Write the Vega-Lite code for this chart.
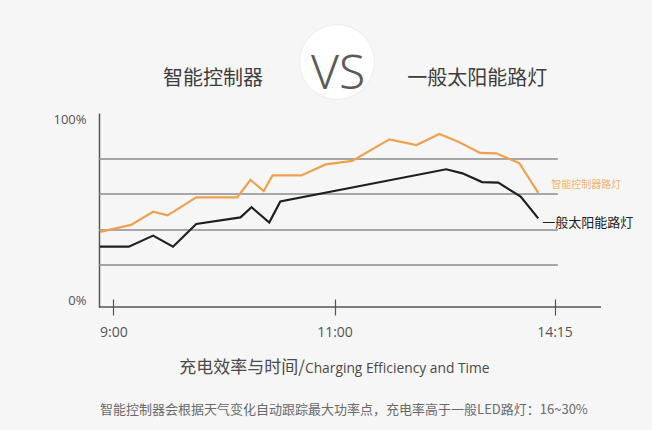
{
  "$schema": "https://vega.github.io/schema/vega-lite/v6.json",
  "width": 502,
  "height": 194,
  "autosize": {"type": "none"},
  "padding": {"left": 99, "top": 113, "right": 51, "bottom": 123},
  "background": "#f6f6f6",
  "config": {"view": {"stroke": null}, "font": "Noto Sans CJK SC"},
  "datasets": {
    "eff": [
      {"time": 8.88, "efficiency": 38.7, "series": "智能控制器路灯"},
      {"time": 9.16, "efficiency": 42.3, "series": "智能控制器路灯"},
      {"time": 9.36, "efficiency": 49.1, "series": "智能控制器路灯"},
      {"time": 9.49, "efficiency": 47.2, "series": "智能控制器路灯"},
      {"time": 9.75, "efficiency": 56.5, "series": "智能控制器路灯"},
      {"time": 10.12, "efficiency": 56.5, "series": "智能控制器路灯"},
      {"time": 10.24, "efficiency": 65.5, "series": "智能控制器路灯"},
      {"time": 10.36, "efficiency": 59.8, "series": "智能控制器路灯"},
      {"time": 10.44, "efficiency": 67.8, "series": "智能控制器路灯"},
      {"time": 10.70, "efficiency": 67.8, "series": "智能控制器路灯"},
      {"time": 10.92, "efficiency": 73.5, "series": "智能控制器路灯"},
      {"time": 11.26, "efficiency": 75.3, "series": "智能控制器路灯"},
      {"time": 11.81, "efficiency": 86.4, "series": "智能控制器路灯"},
      {"time": 12.21, "efficiency": 83.5, "series": "智能控制器路灯"},
      {"time": 12.55, "efficiency": 89.2, "series": "智能控制器路灯"},
      {"time": 12.83, "efficiency": 85.2, "series": "智能控制器路灯"},
      {"time": 13.15, "efficiency": 79.4, "series": "智能控制器路灯"},
      {"time": 13.39, "efficiency": 79.2, "series": "智能控制器路灯"},
      {"time": 13.73, "efficiency": 74.1, "series": "智能控制器路灯"},
      {"time": 13.87, "efficiency": 66.5, "series": "智能控制器路灯"},
      {"time": 14.01, "efficiency": 58.8, "series": "智能控制器路灯"},
      {"time": 8.88, "efficiency": 31.1, "series": "一般太阳能路灯"},
      {"time": 9.14, "efficiency": 31.1, "series": "一般太阳能路灯"},
      {"time": 9.36, "efficiency": 36.8, "series": "一般太阳能路灯"},
      {"time": 9.54, "efficiency": 31.1, "series": "一般太阳能路灯"},
      {"time": 9.75, "efficiency": 42.8, "series": "一般太阳能路灯"},
      {"time": 10.15, "efficiency": 46.2, "series": "一般太阳能路灯"},
      {"time": 10.25, "efficiency": 51.4, "series": "一般太阳能路灯"},
      {"time": 10.41, "efficiency": 43.5, "series": "一般太阳能路灯"},
      {"time": 10.51, "efficiency": 54.4, "series": "一般太阳能路灯"},
      {"time": 12.65, "efficiency": 71.0, "series": "一般太阳能路灯"},
      {"time": 12.89, "efficiency": 68.9, "series": "一般太阳能路灯"},
      {"time": 13.18, "efficiency": 64.4, "series": "一般太阳能路灯"},
      {"time": 13.42, "efficiency": 64.1, "series": "一般太阳能路灯"},
      {"time": 13.75, "efficiency": 56.9, "series": "一般太阳能路灯"},
      {"time": 14.01, "efficiency": 45.7, "series": "一般太阳能路灯"}
    ],
    "grid": [{"level": 21.6}, {"level": 39.7}, {"level": 58.2}, {"level": 76.3}]
  },
  "data": {"name": "eff"},
  "layer": [
    {
      "data": {"name": "grid"},
      "mark": {"type": "rule", "color": "#8c8c8c", "strokeWidth": 1.5},
      "encoding": {
        "y": {"field": "level", "type": "quantitative"},
        "x": {"datum": 8.871},
        "x2": {"datum": 14.3}
      }
    },
    {
      "data": {"values": [{}]},
      "mark": {"type": "rule", "color": "#555555", "strokeWidth": 1.5},
      "encoding": {"y": {"datum": 0}}
    },
    {
      "mark": {"type": "line", "strokeWidth": 2.2},
      "encoding": {
        "x": {
          "field": "time",
          "type": "quantitative",
          "scale": {"domain": [8.871, 9, 11, 14.25, 14.94], "range": [0, 14.3, 235.5, 455.5, 502], "nice": false, "zero": false},
          "axis": {
            "values": [9, 11, 14.25],
            "labelExpr": "datum.value == 9 ? '9:00' : datum.value == 11 ? '11:00' : '14:15'",
            "title": null,
            "grid": false,
            "domain": false,
            "offset": -8,
            "tickSize": 16,
            "tickColor": "#555555",
            "tickWidth": 1.2,
            "labelPadding": 10,
            "labelFontSize": 14,
            "labelColor": "#555555",
            "labelFont": "Open Sans"
          }
        },
        "y": {
          "field": "efficiency",
          "type": "quantitative",
          "scale": {"domain": [0, 100], "nice": false},
          "axis": {
            "values": [0, 100],
            "labelExpr": "datum.value + '%'",
            "labelFlush": true,
            "title": null,
            "grid": false,
            "ticks": false,
            "domainColor": "#555555",
            "domainWidth": 1.5,
            "labelPadding": 13,
            "labelFontSize": 13,
            "labelColor": "#555555",
            "labelFont": "Open Sans"
          }
        },
        "color": {
          "field": "series",
          "type": "nominal",
          "scale": {"domain": ["智能控制器路灯", "一般太阳能路灯"], "range": ["#f0a14f", "#1f1f1f"]},
          "legend": null
        }
      }
    },
    {
      "transform": [{"filter": "datum.series == '智能控制器路灯' && datum.time >= 14"}],
      "mark": {"type": "text", "align": "left", "baseline": "middle", "dx": 13, "dy": -8, "fontSize": 10, "color": "#f5b36e"},
      "encoding": {
        "x": {"field": "time", "type": "quantitative"},
        "y": {"field": "efficiency", "type": "quantitative"},
        "text": {"field": "series"}
      }
    },
    {
      "transform": [{"filter": "datum.series == '一般太阳能路灯' && datum.time >= 14"}],
      "mark": {"type": "text", "align": "left", "baseline": "middle", "dx": 4, "dy": 5, "fontSize": 13, "color": "#222222"},
      "encoding": {
        "x": {"field": "time", "type": "quantitative"},
        "y": {"field": "efficiency", "type": "quantitative"},
        "text": {"field": "series"}
      }
    },
    {
      "data": {"values": [{}]},
      "mark": {"type": "point", "shape": "circle", "filled": true, "size": 5600, "color": "#ffffff", "opacity": 1, "stroke": "#ececec", "strokeWidth": 1},
      "encoding": {"x": {"datum": 11.037}, "y": {"datum": 126.3}}
    },
    {
      "data": {"values": [{}]},
      "mark": {"type": "text", "text": "VS", "align": "center", "baseline": "middle", "fontSize": 48, "fontWeight": 300, "font": "Noto Sans", "color": "#5a5a5a"},
      "encoding": {"x": {"datum": 11.052}, "y": {"datum": 119.6}}
    },
    {
      "data": {"values": [{}]},
      "mark": {"type": "text", "text": "智能控制器", "align": "center", "baseline": "middle", "fontSize": 20, "color": "#3d3d3d"},
      "encoding": {"x": {"datum": 9.901}, "y": {"datum": 117.5}}
    },
    {
      "data": {"values": [{}]},
      "mark": {"type": "text", "text": "一般太阳能路灯", "align": "center", "baseline": "middle", "fontSize": 20, "color": "#3d3d3d"},
      "encoding": {"x": {"datum": 13.11}, "y": {"datum": 117.5}}
    },
    {
      "data": {"values": [{}]},
      "mark": {"type": "text", "text": "充电效率与时间/", "align": "right", "baseline": "alphabetic", "fontSize": 17, "color": "#4a4a4a"},
      "encoding": {"x": {"datum": 10.733}, "y": {"datum": -34.0}}
    },
    {
      "data": {"values": [{}]},
      "mark": {"type": "text", "text": "Charging Efficiency and Time", "align": "left", "baseline": "alphabetic", "fontSize": 13.8, "font": "Open Sans", "color": "#4a4a4a"},
      "encoding": {"x": {"datum": 10.733}, "y": {"datum": -34.0}}
    },
    {
      "data": {"values": [{}]},
      "mark": {"type": "text", "text": "智能控制器会根据天气变化自动跟踪最大功率点，充电率高于一般LED路灯：16~30%", "align": "center", "baseline": "middle", "fontSize": 13, "color": "#6a6a6a"},
      "encoding": {"x": {"datum": 11.14}, "y": {"datum": -53.1}}
    }
  ]
}
